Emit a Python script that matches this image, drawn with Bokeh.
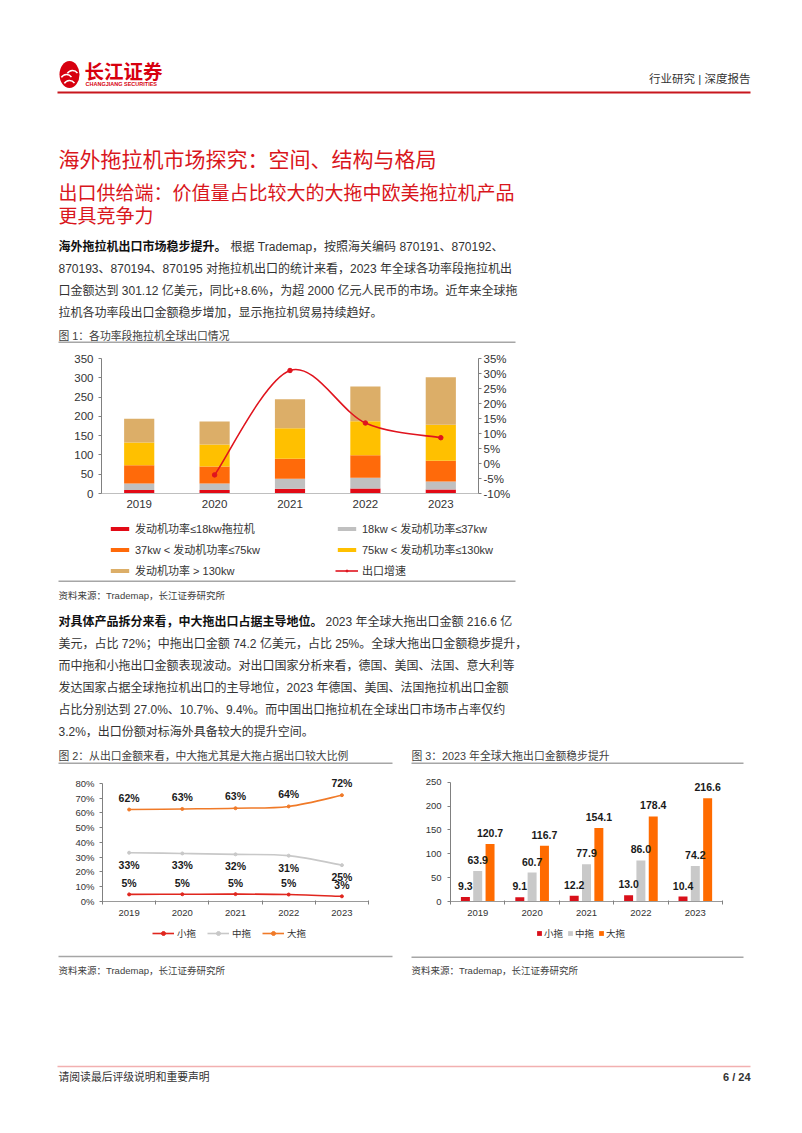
from bokeh.plotting import figure
from bokeh.layouts import column, row
from bokeh.models import (Range1d, LinearAxis, FixedTicker, PrintfTickFormatter,
                          Legend, LegendItem, ColumnDataSource)
from bokeh.core.properties import value
from bokeh.transform import dodge
from bokeh.embed import file_html
from bokeh.resources import INLINE

# ---------------- data ----------------
years = ["2019", "2020", "2021", "2022", "2023"]

# Figure 1: export value by engine power band (亿美元)
seg_le18 = [9.3, 9.1, 12.2, 13.0, 10.4]
seg_18_37 = [16.7, 16.9, 25.8, 27.6, 20.6]
seg_37_75 = [47.2, 43.8, 52.1, 58.4, 53.6]
seg_75_130 = [58.8, 57.2, 78.9, 88.0, 93.4]
seg_gt130 = [61.9, 59.5, 75.2, 90.4, 123.2]
growth_years = ["2020", "2021", "2022", "2023"]
growth = [-3.8, 31.0, 13.5, 8.6]
fig1_left_ticks = [0, 50, 100, 150, 200, 250, 300, 350]
fig1_right_ticks = [-10, -5, 0, 5, 10, 15, 20, 25, 30, 35]
fig1_names = ["发动机功率≤18kw拖拉机", "18kw < 发动机功率≤37kw", "37kw < 发动机功率≤75kw",
              "75kw < 发动机功率≤130kw", "发动机功率 > 130kw", "出口增速"]

# Figure 2: share of export value (%)
share_small = [4.8, 4.9, 5.0, 4.7, 3.5]
share_mid = [33.0, 32.5, 31.9, 31.0, 24.6]
share_large = [62.2, 62.6, 63.1, 64.3, 71.9]
share_small_lbl = ["5%", "5%", "5%", "5%", "3%"]
share_mid_lbl = ["33%", "33%", "32%", "31%", "25%"]
share_large_lbl = ["62%", "63%", "63%", "64%", "72%"]
fig2_ticks = [0, 10, 20, 30, 40, 50, 60, 70, 80]

# Figure 3: export value (亿美元)
amt_small = [9.3, 9.1, 12.2, 13.0, 10.4]
amt_mid = [63.9, 60.7, 77.9, 86.0, 74.2]
amt_large = [120.7, 116.7, 154.1, 178.4, 216.6]
fig3_ticks = [0, 50, 100, 150, 200, 250]
size_names = ["小拖", "中拖", "大拖"]

# ---------------- styles ----------------
CJK = "Liberation Sans, Noto Sans CJK SC"
LAT = "Liberation Sans"
RED_T = "#d9161c"
TXT = "#333333"
GRAY_LINE = "#a6a6a6"
W = 802
NAN = float("nan")
idx = list(range(len(years)))
year_labels = {i: y for i, y in enumerate(years)}
cols1 = ["#e20a16", "#c0c0c0", "#ff6a0a", "#ffc000", "#dcae68"]
GROWTH_C = "#e0141e"
cols2 = ["#e0261e", "#c8c8c8", "#f07a28"]
cols3 = ["#d9101a", "#c9c9c9", "#ff6b00"]


def canvas(y0, y1):
    p = figure(width=W, height=int(round(y1 - y0)), x_range=Range1d(0, W),
               y_range=Range1d(y1, y0), output_backend="svg", toolbar_location=None,
               min_border=0, x_axis_type=None, y_axis_type=None)
    p.outline_line_color = None
    p.background_fill_color = "white"
    p.frame_align = False
    return p


def t(p, x, y, s, size, color=TXT, bold=False, align="left", font=CJK):
    p.text(x=[x], y=[y], text=[s], text_font=value(font), text_font_size=f"{size}px",
           text_color=color, text_font_style="bold" if bold else "normal",
           text_align=align, text_baseline="middle")


def hline(p, x0, x1, y, color=GRAY_LINE, w=1.5):
    p.segment(x0=[x0], y0=[y], x1=[x1], y1=[y], line_color=color, line_width=w)


def legend(items, loc, **kw):
    base = dict(location=loc, padding=0, margin=0, border_line_color=None,
                background_fill_alpha=0, label_text_font=CJK, label_text_color=TXT)
    base.update(kw)
    return Legend(items=items, **base)


def swatch_bar(p, col):
    # legend-only renderer (nothing drawn on the page)
    return p.vbar(x=[NAN], top=[NAN], width=0.1, fill_color=col, line_color=None)


def swatch_line(p, col, size):
    a = p.line(x=[NAN, NAN], y=[NAN, NAN], line_color=col, line_width=1.6)
    b = p.scatter(x=[NAN], y=[NAN], size=size, fill_color=col, line_color=col)
    return [a, b]


def smooth_src(xs, ys):
    n = len(xs)
    d = {k: [] for k in ("x0", "y0", "x1", "y1", "cx0", "cy0", "cx1", "cy1")}
    for i in range(n - 1):
        xp, yp = (xs[i - 1], ys[i - 1]) if i > 0 else (xs[i], ys[i])
        xn, yn = (xs[i + 2], ys[i + 2]) if i + 2 < n else (xs[i + 1], ys[i + 1])
        d["x0"].append(xs[i]); d["y0"].append(ys[i])
        d["x1"].append(xs[i + 1]); d["y1"].append(ys[i + 1])
        d["cx0"].append(xs[i] + (xs[i + 1] - xp) / 6); d["cy0"].append(ys[i] + (ys[i + 1] - yp) / 6)
        d["cx1"].append(xs[i + 1] - (xn - xs[i]) / 6); d["cy1"].append(ys[i + 1] - (yn - ys[i]) / 6)
    return ColumnDataSource(d)


def style_axes(p, size, ylabel_standoff, xlabel_standoff):
    for ax in p.yaxis:
        ax.major_label_text_font = LAT
        ax.major_label_text_font_size = f"{size}px"
        ax.major_label_text_color = TXT
        ax.axis_line_color = "#808080"
        ax.major_tick_line_color = "#808080"
        ax.major_tick_out = 3
        ax.major_tick_in = 0
        ax.minor_tick_line_color = None
        ax.major_label_standoff = ylabel_standoff
    for ax in p.xaxis:
        ax.major_label_text_font = LAT
        ax.major_label_text_font_size = f"{size}px"
        ax.major_label_text_color = TXT
        ax.axis_line_color = "#9a9a9a"
        ax.major_tick_out = 0
        ax.major_tick_in = 0
        ax.major_label_standoff = xlabel_standoff
    p.xgrid.visible = False
    p.ygrid.visible = False
    p.outline_line_color = None
    p.frame_align = False


# ---------------- block A: header, titles, paragraph 1 ----------------
A = canvas(0, 344)
A.ellipse(x=[69], y=[74], width=[20], height=[27], fill_color="#d7000f", line_color=None)
A.arc(x=[66], y=[80], radius=[6], start_angle=[0.6], end_angle=[2.6], line_color="white", line_width=1.6)
A.arc(x=[72], y=[76], radius=[6], start_angle=[0.6], end_angle=[2.6], line_color="white", line_width=1.6)
A.arc(x=[69], y=[86], radius=[6], start_angle=[0.6], end_angle=[2.6], line_color="white", line_width=1.6)
t(A, 84, 70, "长江证券", 19.5, color="#d7000f", bold=True, font="Noto Sans CJK SC")
t(A, 85, 83, "CHANGJIANG SECURITIES", 5.5, color="#d7000f", bold=True, font=LAT)
t(A, 750, 78, "行业研究 | 深度报告", 11.5, align="right")
hline(A, 57, 750, 92, color="#c8161d", w=2.2)
t(A, 58, 157, "海外拖拉机市场探究：空间、结构与格局", 21, color=RED_T, font="Noto Sans CJK SC")
t(A, 58, 191, "出口供给端：价值量占比较大的大拖中欧美拖拉机产品", 19, color=RED_T, font="Noto Sans CJK SC")
t(A, 58, 214, "更具竞争力", 19, color=RED_T, font="Noto Sans CJK SC")
BS = 12.0
t(A, 58, 246, "海外拖拉机出口市场稳步提升。", BS, color="#111111", bold=True)
t(A, 230, 246, "根据 Trademap，按照海关编码 870191、870192、", BS)
t(A, 58, 268, "870193、870194、870195 对拖拉机出口的统计来看，2023 年全球各功率段拖拉机出", BS)
t(A, 58, 290, "口金额达到 301.12 亿美元，同比+8.6%，为超 2000 亿元人民币的市场。近年来全球拖", BS)
t(A, 58, 312, "拉机各功率段出口金额稳步增加，显示拖拉机贸易持续趋好。", BS)
t(A, 58, 335, "图 1：各功率段拖拉机全球出口情况", 10.8, color="#404040")
hline(A, 58, 515, 341.7)

# ---------------- chart 1 ----------------
c1 = figure(width=W, height=170, x_range=Range1d(-0.5, 4.5), y_range=Range1d(0, 350),
            output_backend="svg", toolbar_location=None,
            min_border_left=101, min_border_right=324, min_border_top=14, min_border_bottom=21)
c1.extra_y_ranges = {"g": Range1d(-10, 35)}
src1 = ColumnDataSource(dict(x=idx, a=seg_le18, b=seg_18_37, c=seg_37_75, d=seg_75_130, e=seg_gt130))
c1.vbar_stack(["a", "b", "c", "d", "e"], x="x", width=0.4, fill_color=cols1,
              line_color=None, source=src1)
gx = [years.index(y) for y in growth_years]
c1.bezier(x0="x0", y0="y0", x1="x1", y1="y1", cx0="cx0", cy0="cy0", cx1="cx1", cy1="cy1",
          source=smooth_src(gx, growth), line_color=GROWTH_C, line_width=1.6, y_range_name="g")
c1.scatter(x=gx, y=growth, size=4.5, fill_color=GROWTH_C, line_color=GROWTH_C, y_range_name="g")
c1.yaxis.ticker = FixedTicker(ticks=fig1_left_ticks)
c1.xaxis.ticker = FixedTicker(ticks=idx)
c1.xaxis.major_label_overrides = year_labels
rax = LinearAxis(y_range_name="g", ticker=FixedTicker(ticks=fig1_right_ticks),
                 formatter=PrintfTickFormatter(format="%d%%"))
c1.add_layout(rax, "right")
style_axes(c1, 11.5, 5, 6)
c1.xaxis.axis_line_color = "#bfbfbf"
rax.major_label_standoff = 2
rax.major_tick_out = 3

# ---------------- block B: legend 1, paragraph 2 and captions ----------------
B = canvas(514, 766)
lg_items = [LegendItem(label=name, renderers=[swatch_bar(B, col)])
            for name, col in zip(fig1_names[:5], cols1)]
lg_items.append(LegendItem(label=fig1_names[5], renderers=swatch_line(B, GROWTH_C, 4.5)))
B.add_layout(legend(lg_items, (108, 186), orientation="horizontal", ncols=2,
                    glyph_width=23, glyph_height=5, label_standoff=4, label_width=199,
                    label_height=20, spacing=1, label_text_font_size="11px"))
hline(B, 58, 515, 580.7)
t(B, 58, 595, "资料来源：Trademap，长江证券研究所", 9.5, color="#404040")
t(B, 58, 621, "对具体产品拆分来看，中大拖出口占据主导地位。", BS, color="#111111", bold=True)
t(B, 325, 621, "2023 年全球大拖出口金额 216.6 亿", BS)
t(B, 58, 643, "美元，占比 72%；中拖出口金额 74.2 亿美元，占比 25%。全球大拖出口金额稳步提升，", BS)
t(B, 58, 665, "而中拖和小拖出口金额表现波动。对出口国家分析来看，德国、美国、法国、意大利等", BS)
t(B, 58, 687, "发达国家占据全球拖拉机出口的主导地位，2023 年德国、美国、法国拖拉机出口金额", BS)
t(B, 58, 709, "占比分别达到 27.0%、10.7%、9.4%。而中国出口拖拉机在全球出口市场市占率仅约", BS)
t(B, 58, 731, "3.2%，出口份额对标海外具备较大的提升空间。", BS)
t(B, 58, 755, "图 2：从出口金额来看，中大拖尤其是大拖占据出口较大比例", 10.8, color="#404040")
hline(B, 58, 392, 762.7)
t(B, 411, 755, "图 3：2023 年全球大拖出口金额稳步提升", 10.8, color="#404040")
hline(B, 411, 743, 762.7)

# ---------------- chart 2 ----------------
c2 = figure(width=403, height=154, x_range=Range1d(-0.5, 4.5), y_range=Range1d(0, 85.9),
            output_backend="svg", toolbar_location=None,
            min_border_left=102, min_border_right=35, min_border_top=8, min_border_bottom=19)
series2 = [(share_small, share_small_lbl, -11.5), (share_mid, share_mid_lbl, 12),
           (share_large, share_large_lbl, -12)]
for (vals, lbls, off), col in zip(series2, cols2):
    c2.bezier(x0="x0", y0="y0", x1="x1", y1="y1", cx0="cx0", cy0="cy0", cx1="cx1", cy1="cy1",
              source=smooth_src(idx, vals), line_color=col, line_width=1.6)
    c2.scatter(x=idx, y=vals, size=3, fill_color=col, line_color=col)
for vals, lbls, off in series2:
    c2.text(x=idx, y=vals, text=lbls, y_offset=off, text_align="center", text_baseline="middle",
            text_font=value(LAT), text_font_style="bold", text_font_size="10.5px", text_color="#1a1a1a")
c2.yaxis.ticker = FixedTicker(ticks=fig2_ticks)
c2.yaxis.formatter = PrintfTickFormatter(format="%d%%")
c2.yaxis.bounds = (0, 80)
c2.xaxis.ticker = FixedTicker(ticks=idx, minor_ticks=[i - 0.5 for i in range(len(years) + 1)])
c2.xaxis.major_label_overrides = year_labels
style_axes(c2, 9.5, 5, 5)
c2.xaxis.minor_tick_out = 3
c2.xaxis.minor_tick_in = 1
c2.xaxis.minor_tick_line_color = "#808080"

# ---------------- chart 3 ----------------
c3 = figure(width=399, height=154, x_range=Range1d(-0.5, 4.5), y_range=Range1d(0, 260),
            output_backend="svg", toolbar_location=None,
            min_border_left=47, min_border_right=80, min_border_top=11, min_border_bottom=19)
src3 = ColumnDataSource(dict(x=idx, s=amt_small, m=amt_mid, l=amt_large,
                             sl=[f"{v:.1f}" for v in amt_small],
                             ml=[f"{v:.1f}" for v in amt_mid],
                             ll=[f"{v:.1f}" for v in amt_large]))
groups3 = [("s", "sl", -0.226), ("m", "ml", 0.0), ("l", "ll", 0.227)]
for (fld, lf, off), col in zip(groups3, cols3):
    c3.vbar(x=dodge("x", off, range=c3.x_range), top=fld, width=0.165, fill_color=col,
            line_color=None, source=src3)
for fld, lf, off in groups3:
    c3.text(x=dodge("x", off, range=c3.x_range), y=fld, text=lf, source=src3, y_offset=-11,
            text_align="center", text_baseline="middle", text_font=value(LAT),
            text_font_style="bold", text_font_size="10.5px", text_color="#1a1a1a")
c3.yaxis.ticker = FixedTicker(ticks=fig3_ticks)
c3.yaxis.bounds = (0, 250)
c3.xaxis.ticker = FixedTicker(ticks=idx, minor_ticks=[i - 0.5 for i in range(len(years) + 1)])
c3.xaxis.major_label_overrides = year_labels
style_axes(c3, 9.5, 6, 5)
c3.xaxis.minor_tick_out = 3
c3.xaxis.minor_tick_in = 1
c3.xaxis.minor_tick_line_color = "#808080"

# ---------------- block C: legends 2/3, sources and footer ----------------
C = canvas(920, 1130)
items2 = [LegendItem(label=name, renderers=swatch_line(C, col, 3))
          for name, col in zip(size_names, cols2)]
C.add_layout(legend(items2, (152, 190), orientation="horizontal", glyph_width=22,
                    glyph_height=10, label_standoff=3, label_width=30, label_height=14,
                    spacing=0, label_text_font_size="9.5px"))
items3 = [LegendItem(label=name, renderers=[swatch_bar(C, col)])
          for name, col in zip(size_names, cols3)]
C.add_layout(legend(items3, (536, 190), orientation="horizontal", glyph_width=6,
                    glyph_height=6, label_standoff=2, label_width=23, label_height=14,
                    spacing=0, label_text_font_size="9.5px"))
hline(C, 58, 392, 956)
t(C, 58, 969.5, "资料来源：Trademap，长江证券研究所", 9.5, color="#404040")
hline(C, 411, 743, 956.7)
t(C, 411, 970, "资料来源：Trademap，长江证券研究所", 9.5, color="#404040")
hline(C, 57, 750, 1066, color="#f2b0b0", w=1.5)
t(C, 58, 1076, "请阅读最后评级说明和重要声明", 10.8)
t(C, 750, 1076, "6 / 24", 11, bold=True, align="right", font=LAT)

page = column(A, c1, B, row(c2, c3, spacing=0), C, spacing=0)
open("out.html", "w").write(file_html(page, INLINE))
